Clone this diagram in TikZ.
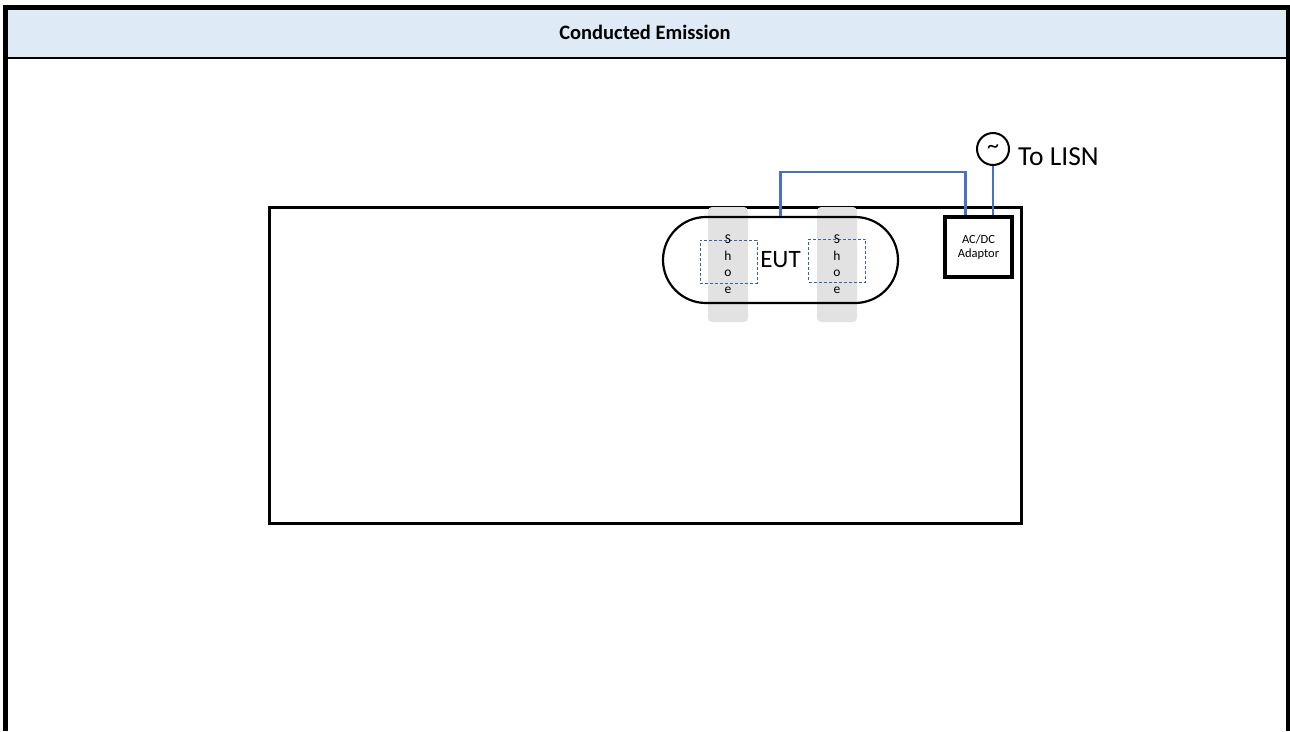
\documentclass[tikz,border=0pt]{standalone}
\usepackage{fontspec}
\setmainfont{Carlito}
\usetikzlibrary{shapes.misc}
\definecolor{headblue}{HTML}{DEEAF6}
\definecolor{wireblue}{HTML}{4472C4}
\definecolor{dashblue}{HTML}{3A62A8}
\definecolor{shoegray}{HTML}{E2E2E2}

\begin{document}
\begin{tikzpicture}[x=1pt,y=-1pt]
    \tikzset{
        shoebar/.style  = {fill=shoegray, rounded corners=4pt, minimum width=40pt, minimum height=115pt, inner sep=0pt},
        shoebox/.style  = {draw=dashblue, dash pattern=on 3pt off 2pt, line width=1pt, minimum width=57pt, minimum height=43pt, inner sep=0pt},
        shoetext/.style = {font=\fontsize{13.5}{16.5}\selectfont, align=center, inner sep=0pt},
        wire/.style     = {draw=wireblue, line width=2.2pt},
    }
    \useasboundingbox (0,0) rectangle (1290,731);
    % header band and frame
    \fill[headblue] (7,9) rectangle (1286,57);
    \draw[line width=2.5pt] (7,58) -- (1286,58);
    \draw[line width=5pt] (5,731) -- (5,7) -- (1288,7) -- (1288,731);
    \node[font=\fontsize{20.5}{24}\selectfont\bfseries] (title) at (645,32) {Conducted Emission};
    % table
    \node[draw, line width=3pt, minimum width=752pt, minimum height=316pt, inner sep=0pt] (table) at (645,365) {};
    % shoes under the EUT
    \node[shoebar] (barl) at (728,264.5) {};
    \node[shoebar] (barr) at (837,264.5) {};
    \node[rounded rectangle, draw, line width=2.2pt, minimum width=235pt, minimum height=86pt, inner sep=0pt,
          font=\fontsize{25}{30}\selectfont] (eut) at (780.5,260) {EUT};
    \node[shoebox] (boxl) at (728.5,261.5) {};
    \node[shoebox] (boxr) at (837,260.5) {};
    \node[shoetext] (shoel) at (728,264) {S\\h\\o\\e};
    \node[shoetext] (shoer) at (837,264) {S\\h\\o\\e};
    % adaptor and mains source
    \node[draw, line width=3.5pt, minimum width=67pt, minimum height=60pt, inner sep=0pt, align=center,
          font=\fontsize{12.5}{14.5}\selectfont] (adaptor) at (978.5,247) {AC/DC\\Adaptor};
    \node[circle, draw, line width=2pt, minimum size=32pt, inner sep=0pt, font=\fontsize{24}{24}\selectfont] (src) at (993,149) {\raisebox{-2pt}{\char`\~}};
    \node[anchor=west, inner sep=0pt, font=\fontsize{27.5}{32}\selectfont] (lisn) at (1018,157) {To LISN};
    % wiring
    \draw[wire] (eut.north) -- ++(0,-44) -| ([xshift=-13pt]adaptor.north);
    \draw[wire] (src.south) -- (src.south |- adaptor.north);
\end{tikzpicture}
\end{document}
